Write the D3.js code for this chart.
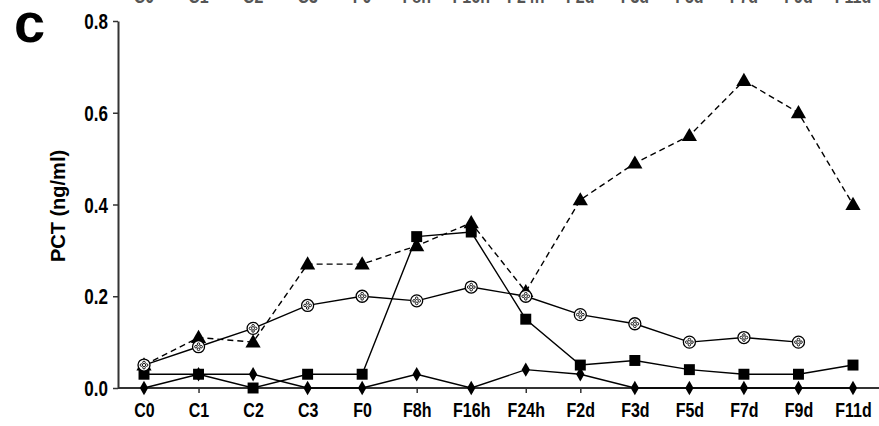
<!DOCTYPE html>
<html>
<head>
<meta charset="utf-8">
<script src="https://cdn.jsdelivr.net/npm/d3@7"></script>
<style>
  body { margin: 0; background: #fff; }
  svg { display: block; }
  .tick text { font-family: "Liberation Sans", Arial, sans-serif; font-weight: bold; fill: #000; }
</style>
</head>
<body>
<div id="chart"></div>
<script>
const WIDTH = 879;
const HEIGHT = 426;
const MARGIN = {top: 21, right: 0, bottom: 38, left: 118};

// x categories (time points)
const categories = ['C0', 'C1', 'C2', 'C3', 'F0', 'F8h', 'F16h', 'F24h', 'F2d', 'F3d', 'F5d', 'F7d', 'F9d', 'F11d'];
const yTicks = [0.0, 0.2, 0.4, 0.6, 0.8];

// series values (null = no point)
const triangleValues = [0.05, 0.11, 0.10, 0.27, 0.27, 0.31, 0.36, 0.21, 0.41, 0.49, 0.55, 0.67, 0.60, 0.40];
const circleValues   = [0.05, 0.09, 0.13, 0.18, 0.20, 0.19, 0.22, 0.20, 0.16, 0.14, 0.10, 0.11, 0.10, null];
const squareValues   = [0.03, 0.03, 0.00, 0.03, 0.03, 0.33, 0.34, 0.15, 0.05, 0.06, 0.04, 0.03, 0.03, 0.05];
const diamondValues  = [0.00, 0.03, 0.03, 0.00, 0.00, 0.03, 0.00, 0.04, 0.03, 0.00, 0.00, 0.00, 0.00, 0.00];

const svg = d3.select('#chart').append('svg')
  .attr('width', WIDTH)
  .attr('height', HEIGHT);

const plotW = WIDTH - MARGIN.left - MARGIN.right;
const plotH = HEIGHT - MARGIN.top - MARGIN.bottom;

const g = svg.append('g')
  .attr('transform', `translate(${MARGIN.left}, ${MARGIN.top})`);

// scales
const xScale = d3.scalePoint()
  .domain(categories)
  .range([26, 735]);

const yScale = d3.scaleLinear()
  .domain([0, 0.8])
  .range([plotH, 0]);

// cut-off labels of the panel above
svg.append('g')
  .selectAll('text')
  .data(categories)
  .join('text')
  .attr('transform', d => `translate(${MARGIN.left + xScale(d)}, 3) scale(1, 1.3)`)
  .attr('text-anchor', 'middle')
  .attr('font-family', '"Liberation Sans", Arial, sans-serif')
  .attr('font-weight', 'bold')
  .attr('font-size', 16)
  .attr('fill', '#555')
  .text(d => d);

// axes
const xAxis = d3.axisBottom(xScale).tickSize(5).tickSizeOuter(0);
const xg = g.append('g')
  .attr('class', 'x axis')
  .attr('transform', `translate(0, ${plotH})`)
  .call(xAxis);
xg.select('.domain').attr('d', `M0,0H${plotW}`);
// tall, narrow-looking labels like the original
xg.selectAll('.tick text')
  .attr('font-size', 16)
  .attr('y', null)
  .attr('dy', null)
  .attr('transform', 'translate(0, 29) scale(1, 1.3)');

const yAxis = d3.axisLeft(yScale).tickValues(yTicks).tickFormat(d3.format('.1f')).tickSize(5).tickSizeOuter(0);
const yg = g.append('g')
  .attr('class', 'y axis')
  .call(yAxis);
yg.selectAll('.tick text')
  .attr('font-size', 17)
  .attr('x', null)
  .attr('dy', '0.36em')
  .attr('transform', 'translate(-10, 0) scale(1, 1.25)');

g.selectAll('.domain').attr('stroke', '#333').attr('stroke-width', 2);
g.selectAll('.tick line').attr('stroke', '#333').attr('stroke-width', 1.5);

// y title
svg.append('text')
  .attr('transform', 'translate(65, 206) rotate(-90)')
  .attr('text-anchor', 'middle')
  .attr('font-family', '"Liberation Sans", Arial, sans-serif')
  .attr('font-weight', 'bold')
  .attr('font-size', 20)
  .text('PCT (ng/ml)');

// panel letter
svg.append('text')
  .attr('x', 14)
  .attr('y', 42)
  .attr('font-family', '"Liberation Sans", Arial, sans-serif')
  .attr('font-weight', 'bold')
  .attr('font-size', 56)
  .text('c');

// lines
const line = d3.line()
  .x(d => xScale(d.c))
  .y(d => yScale(d.v));

const toPts = vals => categories.map((c, i) => ({c, v: vals[i]})).filter(d => d.v !== null);

const series = [
  {name: 'diamond', values: diamondValues, dash: null},
  {name: 'square', values: squareValues, dash: null},
  {name: 'circle', values: circleValues, dash: null},
  {name: 'triangle', values: triangleValues, dash: '6,4'}
];

series.forEach(s => {
  g.append('path')
    .datum(toPts(s.values))
    .attr('fill', 'none')
    .attr('stroke', '#000')
    .attr('stroke-width', 1.4)
    .attr('stroke-dasharray', s.dash)
    .attr('d', line);
});

// markers
const sym = {
  diamond: d3.symbol().type(d3.symbolDiamond).size(60),
  square: d3.symbol().type(d3.symbolSquare).size(120),
  triangle: d3.symbol().type(d3.symbolTriangle).size(100)
};

['diamond', 'square', 'triangle'].forEach(name => {
  const s = series.find(d => d.name === name);
  g.append('g')
    .selectAll('path')
    .data(toPts(s.values))
    .join('path')
    .attr('transform', d => `translate(${xScale(d.c)}, ${yScale(d.v) + (name === 'triangle' ? 1 : 0)})`)
    .attr('d', sym[name])
    .attr('fill', '#000');
});

// open circle markers with a dotted cross inside
const circ = g.append('g')
  .selectAll('g')
  .data(toPts(circleValues))
  .join('g')
  .attr('transform', d => `translate(${xScale(d.c)}, ${yScale(d.v)})`);

circ.append('circle')
  .attr('r', 6)
  .attr('fill', '#fff')
  .attr('stroke', '#000')
  .attr('stroke-width', 1.3);

circ.selectAll('.dot')
  .data([[0, -2.6], [2.6, 0], [0, 2.6], [-2.6, 0]])
  .join('circle')
  .attr('class', 'dot')
  .attr('cx', d => d[0])
  .attr('cy', d => d[1])
  .attr('r', 1.3)
  .attr('fill', 'none')
  .attr('stroke', '#000')
  .attr('stroke-width', 0.9);
</script>
</body>
</html>
